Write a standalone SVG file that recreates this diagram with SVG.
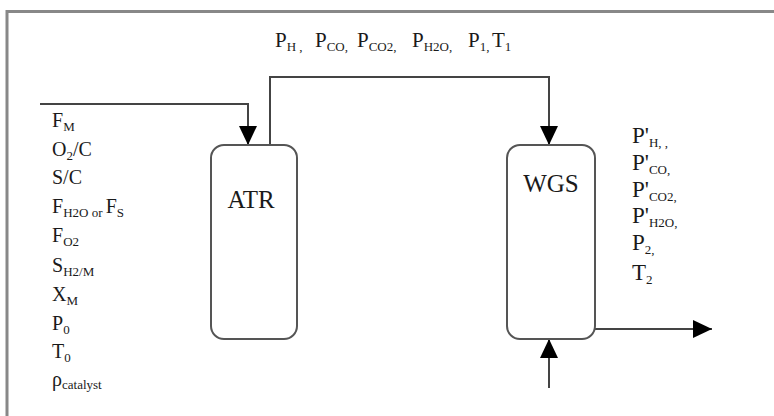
<svg xmlns="http://www.w3.org/2000/svg" width="774" height="416" viewBox="0 0 774 416">
<style>
text{font-family:"Liberation Serif","Times New Roman",serif;fill:#1a1a1a}
.t21{font-size:21px}.t20{font-size:20px}.t23{font-size:23px}.t25{font-size:25px}
.sub{font-size:13px}
.box{fill:#fff;stroke:#555;stroke-width:2}
.ln{fill:none;stroke:#444;stroke-width:2}
.frame{fill:none;stroke:#888;stroke-width:3}
</style>
<defs>
<marker id="ah" markerUnits="userSpaceOnUse" markerWidth="20" markerHeight="20" refX="19" refY="9" orient="auto">
<path d="M0,0 L19,9 L0,18 Z" fill="#000"/>
</marker>
</defs>
<rect width="774" height="416" fill="#fff"/>
<path class="frame" d="M7,416 V11.5 H774"/>

<g id="connectors">
<path class="ln" d="M40,104 H248 V145" marker-end="url(#ah)"/>
<path class="ln" d="M270,145 V77 H549 V145" marker-end="url(#ah)"/>
<path class="ln" d="M549,388 V339" marker-end="url(#ah)"/>
<path class="ln" d="M595,329 H712" marker-end="url(#ah)"/>
</g>

<g id="atr">
<rect class="box" x="211" y="145" width="86" height="194" rx="13"/>
<text class="t25" x="251" y="208" text-anchor="middle">ATR</text>
</g>
<g id="wgs">
<rect class="box" x="507" y="145" width="88" height="194" rx="13"/>
<text class="t25" x="551" y="192" text-anchor="middle">WGS</text>
</g>

<g id="stream-label">
<text class="t21" x="275" y="47">P<tspan class="sub" dy="4">H , </tspan></text>
<text class="t21" x="315" y="47">P<tspan class="sub" dy="4">CO, </tspan></text>
<text class="t21" x="357" y="47">P<tspan class="sub" dy="4">CO2, </tspan></text>
<text class="t21" x="412" y="47">P<tspan class="sub" dy="4">H2O, </tspan></text>
<text class="t21" x="468" y="47">P<tspan class="sub" dy="4">1, </tspan></text>
<text class="t21" x="492" y="47">T<tspan class="sub" dy="4">1</tspan></text>
</g>

<g id="inputs">
<text class="t20" x="52" y="127">F<tspan class="sub" dy="4">M</tspan></text>
<text class="t20" x="52" y="156">O<tspan class="sub" dy="4">2</tspan><tspan dy="-4">/C</tspan></text>
<text class="t20" x="52" y="184">S/C</text>
<text class="t20" x="52" y="213">F<tspan class="sub" dy="4">H2O or </tspan><tspan dy="-4">F</tspan><tspan class="sub" dy="4">S</tspan></text>
<text class="t20" x="52" y="242">F<tspan class="sub" dy="4">O2</tspan></text>
<text class="t20" x="52" y="272">S<tspan class="sub" dy="4">H2/M</tspan></text>
<text class="t20" x="52" y="301">X<tspan class="sub" dy="4">M</tspan></text>
<text class="t20" x="52" y="330">P<tspan class="sub" dy="4">0</tspan></text>
<text class="t20" x="52" y="358">T<tspan class="sub" dy="4">0</tspan></text>
<text class="t20" x="52" y="386">ρ<tspan class="sub" dy="3">catalyst</tspan></text>
</g>

<g id="outputs">
<text class="t23" x="632" y="143">P'<tspan class="sub" dy="4">H, ,</tspan></text>
<text class="t23" x="632" y="170">P'<tspan class="sub" dy="4">CO,</tspan></text>
<text class="t23" x="632" y="197">P'<tspan class="sub" dy="4">CO2,</tspan></text>
<text class="t23" x="632" y="223">P'<tspan class="sub" dy="4">H2O,</tspan></text>
<text class="t23" x="632" y="250">P<tspan class="sub" dy="4">2,</tspan></text>
<text class="t23" x="632" y="280">T<tspan class="sub" dy="4">2</tspan></text>
</g>
</svg>
